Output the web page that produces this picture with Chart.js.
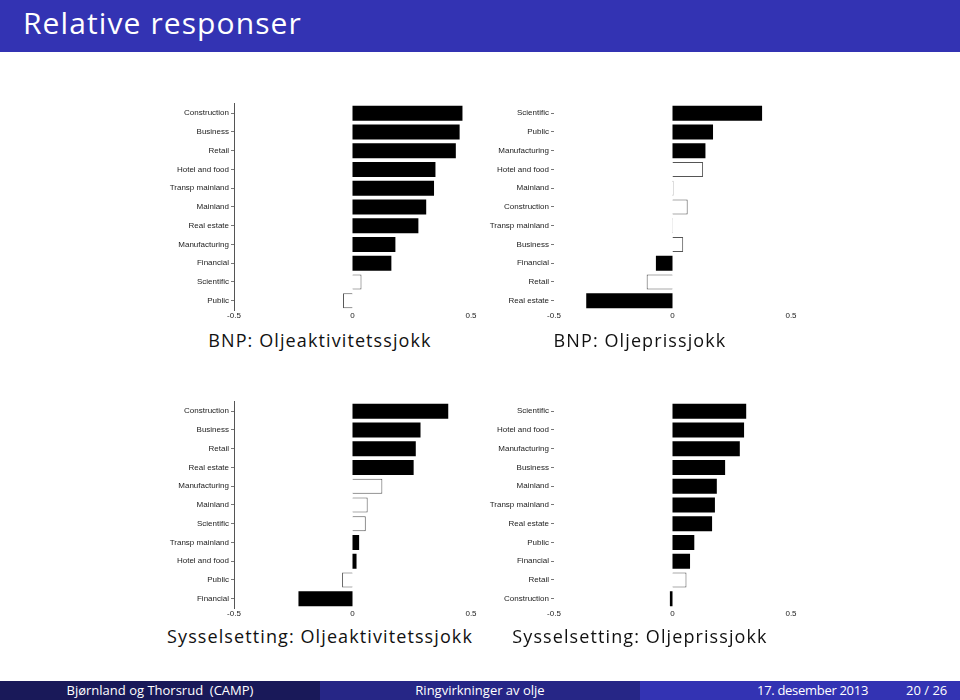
<!DOCTYPE html>
<html>
<head>
<meta charset="utf-8">
<script src="https://cdn.jsdelivr.net/npm/chart.js@4.4.1/dist/chart.umd.min.js"></script>
<style>
  html, body { margin: 0; padding: 0; }
  body { width: 960px; height: 700px; position: relative; overflow: hidden; background: #fff; font-family: "Open Sans", Lato, sans-serif; font-variant-ligatures: none; }
  #hdr { position: absolute; left: 0; top: 0; width: 960px; height: 52px; background: #3333B3; }
  #hdr span { position: absolute; left: 23px; top: 3px; color: #fff; font-size: 30px; line-height: 40px; letter-spacing: 1.1px; }
  .cw { position: absolute; width: 340px; height: 226px; }
  .cap { position: absolute; width: 320px; text-align: center; font-size: 18px; line-height: 22px; color: #111; letter-spacing: 1.1px; }
  .seg { position: absolute; top: 681px; height: 19px; color: #fff; font-size: 13px; line-height: 19px; }
</style>
</head>
<body>
<div id="hdr"><span>Relative responser</span></div>

<div class="cw" style="left:150px;top:97px"><canvas id="c1" width="340" height="226"></canvas></div>
<div class="cw" style="left:470px;top:97px"><canvas id="c2" width="340" height="226"></canvas></div>
<div class="cw" style="left:150px;top:395px"><canvas id="c3" width="340" height="226"></canvas></div>
<div class="cw" style="left:470px;top:395px"><canvas id="c4" width="340" height="226"></canvas></div>

<div class="cap" style="left:160px;top:329px">BNP: Oljeaktivitetssjokk</div>
<div class="cap" style="left:480px;top:329px">BNP: Oljeprissjokk</div>
<div class="cap" style="left:160px;top:625px">Sysselsetting: Oljeaktivitetssjokk</div>
<div class="cap" style="left:480px;top:625px">Sysselsetting: Oljeprissjokk</div>

<div class="seg" style="left:0;width:320px;background:#191959;text-align:center">Bjørnland og Thorsrud&nbsp; (CAMP)</div>
<div class="seg" style="left:320px;width:320px;background:#262686;text-align:center">Ringvirkninger av olje</div>
<div class="seg" style="left:640px;width:320px;background:#3333B3;">
  <span style="position:absolute;left:117px;letter-spacing:-0.3px">17. desember 2013</span>
  <span style="position:absolute;left:266px">20 / 26</span>
</div>

<script>
// ---- Data ----
const xTickValues = [-0.5, 0, 0.5];

// BNP: Oljeaktivitetssjokk
const gdpActivityCategories = ["Construction", "Business", "Retail", "Hotel and food", "Transp mainland", "Mainland", "Real estate", "Manufacturing", "Financial", "Scientific", "Public"];
const gdpActivityValues = [0.464, 0.452, 0.436, 0.350, 0.344, 0.311, 0.278, 0.181, 0.164, 0.038, -0.040];
const gdpActivitySignificant = [true, true, true, true, true, true, true, true, true, false, false];

// BNP: Oljeprissjokk
const gdpPriceCategories = ["Scientific", "Public", "Manufacturing", "Hotel and food", "Mainland", "Construction", "Transp mainland", "Business", "Financial", "Retail", "Real estate"];
const gdpPriceValues = [0.378, 0.171, 0.139, 0.129, 0.004, 0.064, 0.002, 0.045, -0.070, -0.109, -0.364];
const gdpPriceSignificant = [true, true, true, false, false, false, false, false, true, false, true];

// Sysselsetting: Oljeaktivitetssjokk
const empActivityCategories = ["Construction", "Business", "Retail", "Real estate", "Manufacturing", "Mainland", "Scientific", "Transp mainland", "Hotel and food", "Public", "Financial"];
const empActivityValues = [0.404, 0.287, 0.267, 0.258, 0.126, 0.064, 0.056, 0.028, 0.017, -0.044, -0.228];
const empActivitySignificant = [true, true, true, true, false, false, false, true, true, false, true];

// Sysselsetting: Oljeprissjokk
const empPriceCategories = ["Scientific", "Hotel and food", "Manufacturing", "Business", "Mainland", "Transp mainland", "Real estate", "Public", "Financial", "Retail", "Construction"];
const empPriceValues = [0.311, 0.302, 0.284, 0.222, 0.187, 0.179, 0.167, 0.092, 0.074, 0.059, -0.011];
const empPriceSignificant = [true, true, true, true, true, true, true, true, true, false, true];

// ---- Drawing ----
const tickFont = { family: "Arial, 'Liberation Sans', sans-serif", size: 8 };

function makeChart(id, categories, values, significant, showAxisLine) {
  new Chart(document.getElementById(id), {
    type: 'bar',
    data: {
      labels: categories,
      datasets: [{
        data: values,
        backgroundColor: significant.map(s => s ? '#000000' : '#ffffff'),
        borderColor: significant.map(s => s ? '#000000' : '#555555'),
        borderWidth: significant.map(s => s ? 0 : 1),
        borderSkipped: 'start',
        barPercentage: 0.8,
        categoryPercentage: 1.0
      }]
    },
    options: {
      indexAxis: 'y',
      responsive: false,
      animation: false,
      layout: { padding: { top: 5, bottom: 1, left: 0, right: 19 } },
      plugins: { legend: { display: false }, tooltip: { enabled: false } },
      scales: {
        x: {
          min: -0.5, max: 0.5,
          afterBuildTicks: s => { s.ticks = xTickValues.map(v => ({ value: v })); },
          afterFit: s => { s.height = 12; },
          grid: { display: false, drawTicks: false },
          border: { display: false },
          ticks: { font: tickFont, color: '#222', padding: 1, maxRotation: 0,
                   callback: v => String(v) }
        },
        y: {
          afterFit: s => { s.width = 84; },
          grid: { offset: false, drawOnChartArea: false, drawTicks: true, tickLength: 3, color: '#777' },
          border: { display: showAxisLine, color: '#555', width: 1 },
          ticks: { font: tickFont, color: '#222', padding: 2, autoSkip: false }
        }
      }
    }
  });
}

makeChart('c1', gdpActivityCategories, gdpActivityValues, gdpActivitySignificant, true);
makeChart('c2', gdpPriceCategories, gdpPriceValues, gdpPriceSignificant, false);
makeChart('c3', empActivityCategories, empActivityValues, empActivitySignificant, true);
makeChart('c4', empPriceCategories, empPriceValues, empPriceSignificant, false);
</script>
</body>
</html>
